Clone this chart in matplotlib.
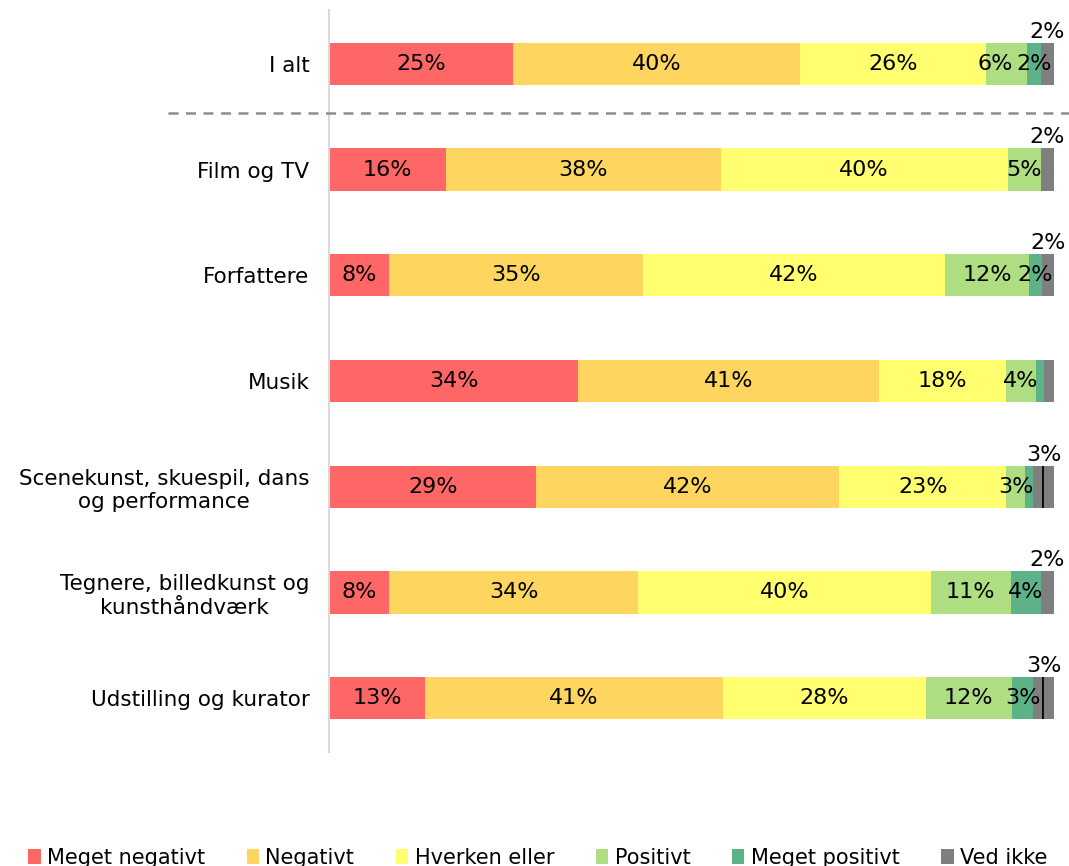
import matplotlib
matplotlib.use('Agg')
import matplotlib.pyplot as plt
from matplotlib.patches import Patch
import numpy as np

categories = ['I alt', 'Film og TV', 'Forfattere', 'Musik',
              'Scenekunst, skuespil, dans\nog performance',
              'Tegnere, billedkunst og\nkunsthåndværk',
              'Udstilling og kurator']
series_names = ['Meget negativt', 'Negativt', 'Hverken eller',
                'Positivt', 'Meget positivt', 'Ved ikke']

meget_negativt = [25.4, 16.1, 8.3, 34.4, 28.6, 8.3, 13.2]
negativt       = [39.6, 37.9, 35.0, 41.4, 41.8, 34.3, 41.1]
hverken_eller  = [25.6, 39.6, 41.7, 17.6, 23.0, 40.4, 28.0]
positivt       = [5.7, 4.6, 11.6, 4.1, 2.6, 11.0, 11.9]
meget_positivt = [1.9, 0.0, 1.7, 1.1, 1.1, 4.2, 2.9]
ved_ikke       = [1.8, 1.8, 1.7, 1.4, 2.9, 1.8, 2.9]

colors = ['#ff6666', '#fdd55f', '#ffff70', '#aedd82', '#5db387', '#7f7f7f']

plt.rcParams['font.family'] = ['DejaVu Sans']
FS = 16

data = np.array([meget_negativt, negativt, hverken_eller,
                 positivt, meget_positivt, ved_ikke])
y = np.arange(len(categories))

fig = plt.figure(figsize=(10.69, 8.66), dpi=100)
ax = fig.add_axes([329 / 1069, 1 - 752 / 866, (1054 - 329) / 1069, 742 / 866])

left = np.zeros(len(categories))
for i, (name, vals) in enumerate(zip(series_names, data)):
    ax.barh(y, vals, left=left, height=0.4, color=colors[i], label=name)
    for j, v in enumerate(vals):
        cx = left[j] + v / 2
        txt = f'{round(v)}%'
        if i == 5:
            # label of "Ved ikke" sits above the bar
            if round(v) >= 2:
                ax.text(cx, y[j] - 0.21, txt, ha='center', va='bottom', fontsize=FS)
            if round(v) >= 3:
                ax.vlines(cx, y[j] - 0.2, y[j] + 0.2, color='black', lw=1.3)
        elif i == 4:
            if round(v) >= 2:
                ax.text(cx, y[j], txt, ha='center', va='center', fontsize=FS)
        else:
            # small positivt segment next to a labelled meget positivt: nudge left
            if i == 3 and v < 8 and round(data[4][j]) >= 2:
                cx -= 1.5
            ax.text(cx, y[j], txt, ha='center', va='center', fontsize=FS)
    left += vals

ax.set_xlim(0, 100)
ax.set_ylim(6.51, -0.51)
ax.set_yticks(y)
ax.set_yticklabels(categories, fontsize=15.5, multialignment='center')
ax.tick_params(axis='y', length=0, pad=14)
ax.set_xticks([])
for s in ['top', 'right', 'bottom']:
    ax.spines[s].set_visible(False)
ax.spines['left'].set_color('#d9d9d9')
ax.spines['left'].set_linewidth(1.5)

# dashed separator between total and groups
fig.add_artist(plt.Line2D([168 / 1069, 1.0], [1 - 113 / 866, 1 - 113 / 866],
                          color='#8f8f80', lw=1.8, ls=(0, (4, 3))))

handles = [Patch(facecolor=c, label=n) for c, n in zip(colors, series_names)]
fig.legend(handles=handles, loc='center', bbox_to_anchor=(0.503, 1 - 858 / 866),
           ncol=6, frameon=False, fontsize=15, handlelength=0.6, handleheight=0.75,
           handletextpad=0.3, columnspacing=2.0)

fig.savefig('out.png', dpi=100)
